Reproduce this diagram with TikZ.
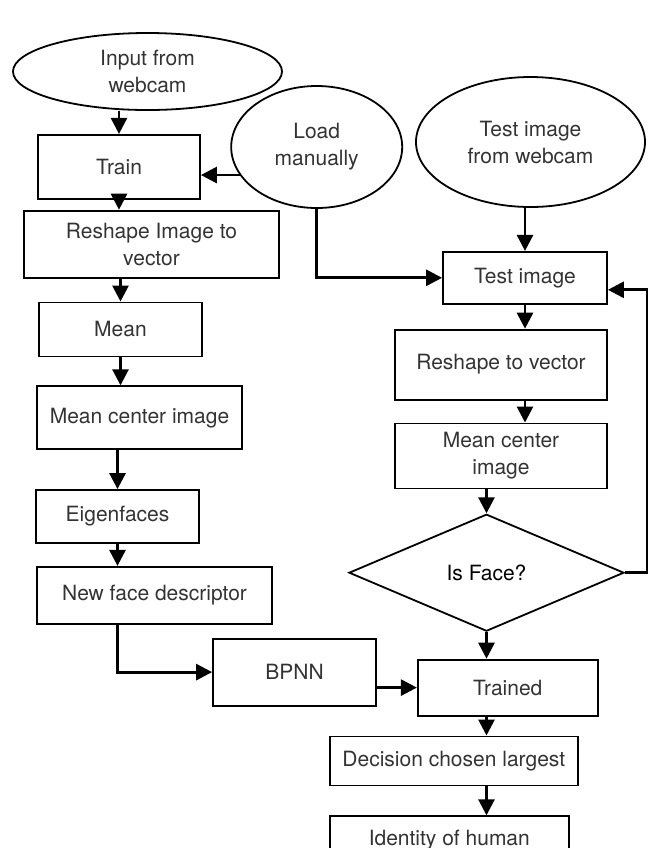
\documentclass[tikz,border=0pt]{standalone}
\usepackage{fontspec}
\setmainfont{TeX Gyre Heros}
\usetikzlibrary{positioning,arrows.meta,shapes.geometric}
\tikzset{
  bloc/.style    = {draw, line width=0.9pt, align=center, inner sep=2pt,
                    text=black!80, font=\fontsize{10.5}{13.5}\selectfont},
  oval/.style    = {bloc, ellipse, inner sep=0pt},
  romb/.style    = {bloc, diamond, inner sep=0pt, text=black},
  sageata/.style = {-{Triangle[length=8pt,width=8pt]}, line width=1.4pt}
}

\begin{document}
\begin{tikzpicture}[node distance=10pt]
  \useasboundingbox (0,0) rectangle (324pt,-424pt);

  % ramura de antrenare
  \node[oval, minimum width=134.5pt, minimum height=38.5pt] (camera) at (73.75pt,-35.75pt)
      {Input from\\webcam};
  \node[bloc, minimum width=81pt, minimum height=32pt, below=11.5pt of camera, xshift=-14.25pt] (antrenare) {Train};
  \node[bloc, minimum width=127.5pt, minimum height=33.5pt, below=5pt of antrenare, xshift=16.25pt] (remodelare)
      {Reshape Image to\\vector};
  \node[bloc, minimum width=81.5pt, minimum height=27pt, below=11.5pt of remodelare, xshift=-15.5pt] (medie) {Mean};
  \node[bloc, minimum width=102.5pt, minimum height=31.5pt, below=14pt of medie, xshift=9.5pt] (centrare)
      {Mean center image};
  \node[bloc, minimum width=81.5pt, minimum height=26.5pt, below=19.5pt of centrare, xshift=-11pt] (eigen) {Eigenfaces};
  \node[bloc, minimum width=117.5pt, minimum height=28.5pt, below=11pt of eigen, xshift=18.5pt] (descriptor)
      {New face descriptor};
  \node[bloc, minimum width=81.5pt, minimum height=33.5pt, below=6.5pt of descriptor, xshift=70pt] (bpnn) {BPNN};

  % ramura de test
  \node[oval, minimum width=114.5pt, minimum height=65pt] (cameratest) at (265.25pt,-71pt)
      {Test image\\from webcam};
  \node[oval, minimum width=85.5pt, minimum height=61pt, left=6pt of cameratest, yshift=-2.5pt] (incarcare)
      {Load\\manually};
  \node[bloc, minimum width=82pt, minimum height=26pt, below=21.5pt of cameratest, xshift=-2.75pt] (test) {Test image};
  \node[bloc, minimum width=106pt, minimum height=35pt, below=12pt of test, xshift=-12pt] (vector) {Reshape to vector};
  \node[bloc, minimum width=106pt, minimum height=32.5pt, below=11pt of vector] (centraretest) {Mean center\\image};
  \node[romb, minimum width=137.5pt, minimum height=58.5pt, below=12pt of centraretest, xshift=-7.25pt] (fata) {Is Face?};
  \node[bloc, minimum width=90pt, minimum height=28pt, right=20pt of bpnn, yshift=-7.75pt] (antrenat) {Trained};
  \node[bloc, minimum width=124pt, minimum height=24.5pt, below=9.5pt of antrenat, xshift=-27pt] (decizie)
      {Decision chosen largest};
  \node[bloc, minimum width=119.5pt, minimum height=23.5pt, below=14.5pt of decizie, xshift=-2.25pt] (identitate)
      {Identity of human};

  \draw[sageata] (antrenare.north |- camera.south) -- (antrenare.north);
  \draw[sageata] (incarcare.200) -- (incarcare.200 -| antrenare.east);
  \draw[sageata] (antrenare.south) -- (antrenare.south |- remodelare.north);
  \draw[sageata] (medie.north |- remodelare.south) -- (medie.north);
  \draw[sageata] (medie.south) -- (medie.south |- centrare.north);
  \draw[sageata] (eigen.north |- centrare.south) -- (eigen.north);
  \draw[sageata] (eigen.south) -- (eigen.south |- descriptor.north);
  \draw[sageata] (eigen.south |- descriptor.south) |- (bpnn.west);
  \draw[sageata] (bpnn.east |- antrenat.west) -- (antrenat.west);

  \draw[sageata] (test.north |- cameratest.south) -- (test.north);
  \draw[sageata] (incarcare.south) |- (test.west);
  \draw[sageata] (test.south) -- (test.south |- vector.north);
  \draw[sageata] (test.south |- vector.south) -- (test.south |- centraretest.north);
  \draw[sageata] (fata.north |- centraretest.south) -- (fata.north);
  \draw[sageata] (fata.south) -- (fata.south |- antrenat.north);
  \draw[sageata] (fata.east) -- ++(11pt,0) |- ([yshift=-6pt]test.east);
  \draw[sageata] (fata.south |- antrenat.south) -- (fata.south |- decizie.north);
  \draw[sageata] (fata.south |- decizie.south) -- (fata.south |- identitate.north);
\end{tikzpicture}
\end{document}
